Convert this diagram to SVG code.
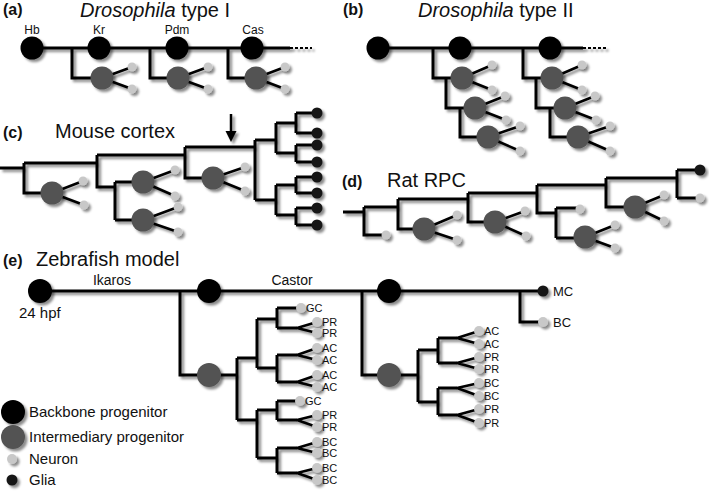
<svg xmlns="http://www.w3.org/2000/svg" width="709" height="492" viewBox="0 0 709 492">
<defs>
<filter id="sh" filterUnits="userSpaceOnUse" x="0" y="0" width="709" height="492">
<feDropShadow dx="2.5" dy="2.5" stdDeviation="1.3" flood-color="#000" flood-opacity="0.45"/>
</filter>
</defs>
<style>
.ln{stroke:#000;stroke-width:3;fill:none;stroke-linejoin:miter;stroke-linecap:butt}
.nl{stroke:#000;stroke-width:2.5;fill:none}
.dash{stroke:#000;stroke-width:2;fill:none;stroke-dasharray:3 2}
.bb{fill:#000}
.ip{fill:#525252}
.nr{fill:#c8c8c8}
.gl{fill:#141414}
.t{font-family:"Liberation Sans",Arial,sans-serif;fill:#111}
.ttl{font-size:20px}
.pl{font-size:16px;font-weight:bold}
.sm{font-size:12px}
.xs{font-size:11px}
.md{font-size:14px}
.lg{font-size:15px}
</style>
<rect width="709" height="492" fill="#fff"/>

<!-- Panel titles -->
<g id="titles">
<text class="t pl" x="3" y="15">(a)</text>
<text class="t ttl" x="80" y="17"><tspan font-style="italic">Drosophila</tspan> type I</text>
<text class="t pl" x="343" y="15">(b)</text>
<text class="t ttl" x="418" y="17"><tspan font-style="italic">Drosophila</tspan> type II</text>
<text class="t pl" x="3" y="138">(c)</text>
<text class="t ttl" x="55" y="138">Mouse cortex</text>
<text class="t pl" x="342" y="187">(d)</text>
<text class="t ttl" x="387" y="187">Rat RPC</text>
<text class="t pl" x="3" y="266">(e)</text>
<text class="t ttl" x="36" y="266">Zebrafish model</text>
</g>

<!-- Connectors -->
<g id="connectors" filter="url(#sh)">
<!-- panel a -->
<path class="ln" d="M32 48 H290"/>
<path class="dash" d="M290 48 H312"/>
<path class="ln" d="M72 48 V78 H102 M150 48 V78 H178 M228 48 V78 H256"/>
<path class="nl" d="M102 78 L132 67 M102 78 L132 89 M178 78 L208 67 M178 78 L208 89 M256 78 L285 67 M256 78 L285 89"/>
<!-- panel b -->
<path class="ln" d="M378 48 H583"/>
<path class="dash" d="M583 48 H607"/>
<path class="ln" d="M433 48 V78 H462 M446 78 V108 H475 M460 108 V137 H488 M523 48 V78 H552 M536 78 V108 H565 M550 108 V137 H578"/>
<path class="nl" d="M462 78 L492 65 M462 78 L492 90 M475 108 L505 96 M475 108 L506 120 M488 137 L520 126 M488 137 L520 151 M552 78 L582 65 M552 78 L582 90 M565 108 L595 96 M565 108 L596 120 M578 137 L610 126 M578 137 L610 151"/>
<!-- panel c -->
<path class="ln" d="M0 168 H24 M24 163 V193 H52 M24 163 H97 M97 155 V187 H115 M115 182 V220 M115 182 H143 M115 220 H143 M97 155 H185 M185 147 V178 H213 M185 147 H255 M255 140 V200 M255 140 H276 M255 200 H276 M276 123 V153 M276 185 V215 M276 123 H296 M276 153 H296 M276 185 H296 M276 215 H296 M296 113 V133 M296 145 V162 M296 177 V193 M296 208 V225 M296 113 H317 M296 133 H317 M296 145 H317 M296 162 H317 M296 177 H317 M296 193 H317 M296 208 H317 M296 225 H317"/>
<path class="nl" d="M52 193 L83 181 M52 193 L84 205 M143 182 L175 170 M143 182 L175 196 M143 220 L178 207 M143 220 L178 232 M213 178 L245 167 M213 178 L245 191"/>
<path d="M231 114 V133" stroke="#000" stroke-width="2.5" fill="none"/>
<polygon points="225.5,131 236.5,131 231,142" fill="#000"/>
<!-- panel d -->
<path class="ln" d="M343 212 H364 M364 207 V235 H386 M364 207 H398 M398 199 V229 H424 M398 199 H468 M468 193 V222 H495 M468 193 H537 M537 185 V213 H556 M556 208 V238 M556 208 H580 M556 238 H585 M537 185 H606 M606 178 V207 H635 M606 178 H677 M677 170 V198 M677 170 H700 M677 198 H700"/>
<path class="nl" d="M424 229 L457 215 M424 229 L457 240 M495 222 L525 211 M495 222 L526 236 M585 237 L615 225 M585 237 L615 248 M635 207 L664 195 M635 207 L664 221"/>
<!-- panel e -->
<path class="ln" d="M40 291 H543 M520 291 V322 H543"/>
<path class="ln" d="M180 291 V375 H237 M237 358 V420 M237 358 H257 M257 319 V368 M257 319 H277 M277 308 V328 M277 308 H301 M277 328 H297 M257 368 H277 M277 355 V382 M277 355 H297 M277 382 H297 M237 420 H257 M257 410 V458 M257 410 H277 M277 401 V420 M277 401 H300 M277 420 H297 M257 458 H277 M277 448 V473 M277 448 H297 M277 473 H297"/>
<path class="nl" d="M297 328 L317 322 M297 328 L317 333 M297 355 L317 348 M297 355 L317 360 M297 382 L317 375 M297 382 L317 387 M297 420 L317 415 M297 420 L317 427 M297 448 L317 442 M297 448 L317 453 M297 473 L317 468 M297 473 L317 480"/>
<path class="ln" d="M362 291 V375 H418 M418 350 V402 M418 350 H438 M438 338 V363 M438 338 H457 M438 363 H457 M418 402 H438 M438 388 V415 M438 388 H457 M438 415 H457"/>
<path class="nl" d="M457 338 L479 331 M457 338 L479 344 M457 363 L479 357 M457 363 L479 369 M457 388 L479 383 M457 388 L479 396 M457 415 L479 409 M457 415 L479 423"/>
</g>

<!-- Nodes -->
<g id="nodes" filter="url(#sh)">
<!-- panel a -->
<g id="a-hb"><circle class="bb" cx="32" cy="48" r="11.5"/></g>
<g id="a-kr"><circle class="bb" cx="99" cy="48" r="11.5"/></g>
<g id="a-pdm"><circle class="bb" cx="177" cy="48" r="11.5"/></g>
<g id="a-cas"><circle class="bb" cx="252" cy="48" r="11.5"/></g>
<g id="a-ip1"><circle class="ip" cx="102" cy="78" r="11.5"/></g>
<g id="a-ip2"><circle class="ip" cx="178" cy="78" r="11.5"/></g>
<g id="a-ip3"><circle class="ip" cx="256" cy="78" r="11.5"/></g>
<g id="a-n1"><circle class="nr" cx="132" cy="67" r="4.5"/></g>
<g id="a-n2"><circle class="nr" cx="132" cy="89" r="4.5"/></g>
<g id="a-n3"><circle class="nr" cx="208" cy="67" r="4.5"/></g>
<g id="a-n4"><circle class="nr" cx="208" cy="89" r="4.5"/></g>
<g id="a-n5"><circle class="nr" cx="285" cy="67" r="4.5"/></g>
<g id="a-n6"><circle class="nr" cx="285" cy="89" r="4.5"/></g>
<!-- panel b -->
<g id="b-bb1"><circle class="bb" cx="378" cy="48" r="11.5"/></g>
<g id="b-bb2"><circle class="bb" cx="460" cy="48" r="11.5"/></g>
<g id="b-bb3"><circle class="bb" cx="550" cy="48" r="11.5"/></g>
<g id="b-ip1"><circle class="ip" cx="462" cy="78" r="11.5"/></g>
<g id="b-ip2"><circle class="ip" cx="475" cy="108" r="11.5"/></g>
<g id="b-ip3"><circle class="ip" cx="488" cy="137" r="11.5"/></g>
<g id="b-ip4"><circle class="ip" cx="552" cy="78" r="11.5"/></g>
<g id="b-ip5"><circle class="ip" cx="565" cy="108" r="11.5"/></g>
<g id="b-ip6"><circle class="ip" cx="578" cy="137" r="11.5"/></g>
<g id="b-n1"><circle class="nr" cx="492" cy="65" r="4.5"/></g>
<g id="b-n2"><circle class="nr" cx="492" cy="90" r="4.5"/></g>
<g id="b-n3"><circle class="nr" cx="505" cy="96" r="4.5"/></g>
<g id="b-n4"><circle class="nr" cx="506" cy="120" r="4.5"/></g>
<g id="b-n5"><circle class="nr" cx="520" cy="126" r="4.5"/></g>
<g id="b-n6"><circle class="nr" cx="520" cy="151" r="4.5"/></g>
<g id="b-n7"><circle class="nr" cx="582" cy="65" r="4.5"/></g>
<g id="b-n8"><circle class="nr" cx="582" cy="90" r="4.5"/></g>
<g id="b-n9"><circle class="nr" cx="595" cy="96" r="4.5"/></g>
<g id="b-n10"><circle class="nr" cx="596" cy="120" r="4.5"/></g>
<g id="b-n11"><circle class="nr" cx="610" cy="126" r="4.5"/></g>
<g id="b-n12"><circle class="nr" cx="610" cy="151" r="4.5"/></g>
<!-- panel c -->
<g id="c-ip1"><circle class="ip" cx="52" cy="193" r="11.5"/></g>
<g id="c-ip2"><circle class="ip" cx="143" cy="182" r="11.5"/></g>
<g id="c-ip3"><circle class="ip" cx="143" cy="220" r="11.5"/></g>
<g id="c-ip4"><circle class="ip" cx="213" cy="178" r="11.5"/></g>
<g id="c-n1"><circle class="nr" cx="83" cy="181" r="4.5"/></g>
<g id="c-n2"><circle class="nr" cx="84" cy="205" r="4.5"/></g>
<g id="c-n3"><circle class="nr" cx="175" cy="170" r="4.5"/></g>
<g id="c-n4"><circle class="nr" cx="175" cy="196" r="4.5"/></g>
<g id="c-n5"><circle class="nr" cx="178" cy="207" r="4.5"/></g>
<g id="c-n6"><circle class="nr" cx="178" cy="232" r="4.5"/></g>
<g id="c-n7"><circle class="nr" cx="245" cy="167" r="4.5"/></g>
<g id="c-n8"><circle class="nr" cx="245" cy="191" r="4.5"/></g>
<g id="c-g1"><circle class="gl" cx="317" cy="113" r="5.5"/></g>
<g id="c-g2"><circle class="gl" cx="317" cy="133" r="5.5"/></g>
<g id="c-g3"><circle class="gl" cx="317" cy="145" r="5.5"/></g>
<g id="c-g4"><circle class="gl" cx="317" cy="162" r="5.5"/></g>
<g id="c-g5"><circle class="gl" cx="317" cy="177" r="5.5"/></g>
<g id="c-g6"><circle class="gl" cx="317" cy="193" r="5.5"/></g>
<g id="c-g7"><circle class="gl" cx="317" cy="208" r="5.5"/></g>
<g id="c-g8"><circle class="gl" cx="317" cy="225" r="5.5"/></g>
<!-- panel d -->
<g id="d-n1"><circle class="nr" cx="386" cy="235" r="4.5"/></g>
<g id="d-ip1"><circle class="ip" cx="424" cy="229" r="11.5"/></g>
<g id="d-n2"><circle class="nr" cx="457" cy="215" r="4.5"/></g>
<g id="d-n3"><circle class="nr" cx="457" cy="240" r="4.5"/></g>
<g id="d-ip2"><circle class="ip" cx="495" cy="222" r="11.5"/></g>
<g id="d-n4"><circle class="nr" cx="525" cy="211" r="4.5"/></g>
<g id="d-n5"><circle class="nr" cx="526" cy="236" r="4.5"/></g>
<g id="d-n6"><circle class="nr" cx="580" cy="209" r="4.5"/></g>
<g id="d-ip3"><circle class="ip" cx="585" cy="237" r="11.5"/></g>
<g id="d-n7"><circle class="nr" cx="615" cy="225" r="4.5"/></g>
<g id="d-n8"><circle class="nr" cx="615" cy="248" r="4.5"/></g>
<g id="d-ip4"><circle class="ip" cx="635" cy="207" r="11.5"/></g>
<g id="d-n9"><circle class="nr" cx="664" cy="195" r="4.5"/></g>
<g id="d-n10"><circle class="nr" cx="664" cy="221" r="4.5"/></g>
<g id="d-g1"><circle class="gl" cx="700" cy="170" r="5.5"/></g>
<g id="d-n11"><circle class="nr" cx="700" cy="198" r="4.5"/></g>
<!-- panel e -->
<g id="e-bb1"><circle class="bb" cx="40" cy="291" r="12"/></g>
<g id="e-bb2"><circle class="bb" cx="209" cy="291" r="12"/></g>
<g id="e-bb3"><circle class="bb" cx="389" cy="291" r="12"/></g>
<g id="e-ip1"><circle class="ip" cx="209" cy="375" r="12"/></g>
<g id="e-ip2"><circle class="ip" cx="389" cy="375" r="12"/></g>
<g id="e-mc"><circle class="gl" cx="543" cy="291" r="5.5"/></g>
<g id="e-bc"><circle class="nr" cx="543" cy="322" r="5"/></g>
<g id="e-l1"><circle class="nr" cx="301" cy="308" r="5"/></g>
<g id="e-l2"><circle class="nr" cx="317" cy="322" r="5"/></g>
<g id="e-l3"><circle class="nr" cx="317" cy="333" r="5"/></g>
<g id="e-l4"><circle class="nr" cx="317" cy="348" r="5"/></g>
<g id="e-l5"><circle class="nr" cx="317" cy="360" r="5"/></g>
<g id="e-l6"><circle class="nr" cx="317" cy="375" r="5"/></g>
<g id="e-l7"><circle class="nr" cx="317" cy="387" r="5"/></g>
<g id="e-l8"><circle class="nr" cx="300" cy="401" r="5"/></g>
<g id="e-l9"><circle class="nr" cx="317" cy="415" r="5"/></g>
<g id="e-l10"><circle class="nr" cx="317" cy="427" r="5"/></g>
<g id="e-l11"><circle class="nr" cx="317" cy="442" r="5"/></g>
<g id="e-l12"><circle class="nr" cx="317" cy="453" r="5"/></g>
<g id="e-l13"><circle class="nr" cx="317" cy="468" r="5"/></g>
<g id="e-l14"><circle class="nr" cx="317" cy="480" r="5"/></g>
<g id="e-r1"><circle class="nr" cx="479" cy="331" r="5"/></g>
<g id="e-r2"><circle class="nr" cx="479" cy="344" r="5"/></g>
<g id="e-r3"><circle class="nr" cx="479" cy="357" r="5"/></g>
<g id="e-r4"><circle class="nr" cx="479" cy="369" r="5"/></g>
<g id="e-r5"><circle class="nr" cx="479" cy="383" r="5"/></g>
<g id="e-r6"><circle class="nr" cx="479" cy="396" r="5"/></g>
<g id="e-r7"><circle class="nr" cx="479" cy="409" r="5"/></g>
<g id="e-r8"><circle class="nr" cx="479" cy="423" r="5"/></g>
<!-- legend -->
<g id="leg-bb"><circle class="bb" cx="13" cy="412" r="12"/></g>
<g id="leg-ip"><circle class="ip" cx="13" cy="437" r="12"/></g>
<g id="leg-nr"><circle class="nr" cx="12" cy="459" r="5"/></g>
<g id="leg-gl"><circle class="gl" cx="12" cy="480" r="5.5"/></g>
</g>

<!-- Labels -->
<g id="labels">
<g class="t sm" text-anchor="middle">
<text x="32" y="34">Hb</text>
<text x="99" y="34">Kr</text>
<text x="177" y="34">Pdm</text>
<text x="253" y="34">Cas</text>
</g>
<text class="t md" x="112" y="285" text-anchor="middle">Ikaros</text>
<text class="t md" x="292" y="285" text-anchor="middle">Castor</text>
<text class="t lg" x="19" y="318">24 hpf</text>
<g class="t xs">
<text x="306" y="312">GC</text>
<text x="322" y="326">PR</text>
<text x="322" y="337">PR</text>
<text x="322" y="352">AC</text>
<text x="322" y="364">AC</text>
<text x="322" y="379">AC</text>
<text x="322" y="391">AC</text>
<text x="305" y="405">GC</text>
<text x="322" y="419">PR</text>
<text x="322" y="431">PR</text>
<text x="322" y="446">BC</text>
<text x="322" y="457">BC</text>
<text x="322" y="472">BC</text>
<text x="322" y="484">BC</text>
<text x="484" y="335">AC</text>
<text x="484" y="348">AC</text>
<text x="484" y="361">PR</text>
<text x="484" y="373">PR</text>
<text x="484" y="387">BC</text>
<text x="484" y="400">BC</text>
<text x="484" y="413">PR</text>
<text x="484" y="427">PR</text>
</g>
<g class="t" font-size="13">
<text x="553" y="296">MC</text>
<text x="553" y="327">BC</text>
</g>
<g class="t lg">
<text x="29" y="417">Backbone progenitor</text>
<text x="29" y="442">Intermediary progenitor</text>
<text x="29" y="464">Neuron</text>
<text x="29" y="485">Glia</text>
</g>
</g>
</svg>
